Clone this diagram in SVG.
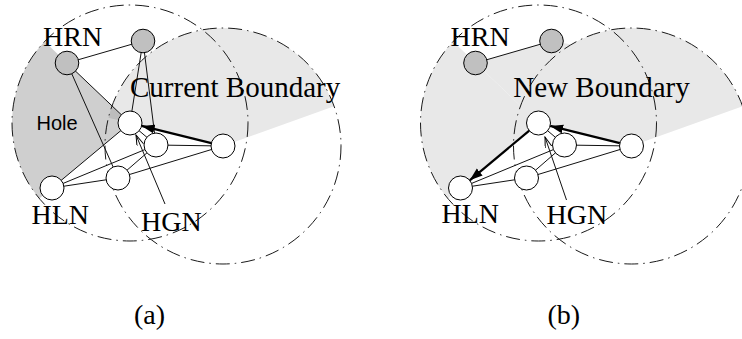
<svg xmlns="http://www.w3.org/2000/svg" width="742" height="339" viewBox="0 0 742 339">
  <style>
    .range { fill: none; stroke: #1a1a1a; stroke-width: 1; stroke-dasharray: 14 5 1.5 5; }
    .edge { stroke: #111; stroke-width: 1; fill: none; }
    .thick { stroke: #000; stroke-width: 2.2; fill: none; }
    .node { fill: #fff; stroke: #000; stroke-width: 1; }
    .hrn { fill: #c0c0c0; stroke: #000; stroke-width: 1; }
    .lbl { font-family: "Liberation Serif", "Times New Roman", serif; font-size: 28px; fill: #000; }
    .big { font-size: 29px; }
    .sans { font-family: "Liberation Sans", Arial, sans-serif; font-size: 20px; fill: #000; }
    .lightfill { fill: #e8e8e8; }
    .holefill { fill: #000; fill-opacity: 0.19; }
  </style>
  <defs>
    <marker id="solidHead" markerUnits="userSpaceOnUse" markerWidth="14" markerHeight="10" refX="13" refY="4.5" orient="auto">
      <path d="M0,0 L13,4.5 L0,9 Z" fill="#000"/>
    </marker>
    <marker id="openHead" markerUnits="userSpaceOnUse" markerWidth="12" markerHeight="8" refX="11" refY="3.5" orient="auto">
      <path d="M0,0 L11,3.5 L0,7" fill="none" stroke="#000" stroke-width="1"/>
    </marker>
  </defs>

  <rect width="742" height="339" fill="#fff"/>

  <!-- Panel (a): current boundary around the hole -->
  <g id="panel-a">
    <g id="a-shading">
      <path class="lightfill" d="M223,146 L108.45,117.67 A118,118 0 0 1 334.1,106.3 Z"/>
      <path class="holefill" d="M130,123 L44.55,41.62 A118,118 0 0 0 39.35,198.54 Z"/>
    </g>
    <g id="a-ranges">
      <circle class="range" cx="130" cy="123" r="118"/>
      <circle class="range" cx="223" cy="146" r="118"/>
    </g>
    <g id="a-connectors">
      <line class="edge" x1="67" y1="63" x2="143" y2="41"/>
      <line class="edge" x1="67" y1="63" x2="130" y2="123"/>
      <line class="edge" x1="67" y1="63" x2="118" y2="178"/>
      <line class="edge" x1="143" y1="41" x2="130" y2="123"/>
      <line class="edge" x1="143" y1="41" x2="156" y2="145"/>
      <line class="edge" x1="130" y1="123" x2="52" y2="188"/>
      <line class="edge" x1="130" y1="123" x2="156" y2="145"/>
      <line class="edge" x1="156" y1="145" x2="223" y2="146"/>
      <line class="edge" x1="52" y1="188" x2="156" y2="145"/>
      <line class="edge" x1="52" y1="188" x2="118" y2="178"/>
      <line class="edge" x1="118" y1="178" x2="156" y2="145"/>
      <line class="edge" x1="118" y1="178" x2="223" y2="146"/>
      <line class="thick" x1="211.35" y1="143.1" x2="141.65" y2="125.88" marker-end="url(#solidHead)"/>
      <line class="edge" x1="165" y1="204" x2="136" y2="135" marker-end="url(#openHead)"/>
    </g>
    <g id="a-hrn1"><circle class="hrn" cx="67" cy="63" r="11.8"/></g>
    <g id="a-hrn2"><circle class="hrn" cx="143" cy="41" r="11.8"/></g>
    <g id="a-nodeA"><circle class="node" cx="130" cy="123" r="12"/></g>
    <g id="a-nodeB"><circle class="node" cx="156" cy="145" r="12"/></g>
    <g id="a-nodeC"><circle class="node" cx="223" cy="146" r="12"/></g>
    <g id="a-nodeD"><circle class="node" cx="118" cy="178" r="12"/></g>
    <g id="a-hln"><circle class="node" cx="52" cy="188" r="12"/></g>
    <g id="a-labels">
      <text class="lbl" x="43" y="46">HRN</text>
      <text class="lbl big" x="130" y="97">Current Boundary</text>
      <text class="sans" x="36.5" y="129.5">Hole</text>
      <text class="lbl" x="31.5" y="223.5">HLN</text>
      <text class="lbl" x="141" y="231">HGN</text>
      <text class="lbl" x="134" y="324">(a)</text>
    </g>
  </g>

  <!-- Panel (b): boundary after the hole is absorbed -->
  <g id="panel-b">
    <g transform="translate(408.5,0)">
      <g id="b-shading">
        <path class="lightfill" d="M223,146 L108.45,117.67 A118,118 0 0 1 334.1,106.3 Z"/>
        <path class="lightfill" d="M130,123 L44.55,41.62 A118,118 0 0 0 39.35,198.54 Z"/>
        <polygon class="lightfill" points="44.55,41.62 67,63 143,41 166,45 130,123"/>
      </g>
      <g id="b-ranges">
        <circle class="range" cx="130" cy="123" r="118"/>
        <circle class="range" cx="223" cy="146" r="118"/>
      </g>
      <g id="b-connectors">
        <line class="edge" x1="67" y1="63" x2="143" y2="41"/>
        <line class="edge" x1="130" y1="123" x2="156" y2="145"/>
        <line class="edge" x1="156" y1="145" x2="223" y2="146"/>
        <line class="edge" x1="52" y1="188" x2="156" y2="145"/>
        <line class="edge" x1="52" y1="188" x2="118" y2="178"/>
        <line class="edge" x1="118" y1="178" x2="156" y2="145"/>
        <line class="edge" x1="118" y1="178" x2="223" y2="146"/>
        <line class="thick" x1="211.35" y1="143.1" x2="141.65" y2="125.88" marker-end="url(#solidHead)"/>
        <line class="thick" x1="120.78" y1="130.68" x2="61.22" y2="180.32" marker-end="url(#solidHead)"/>
        <line class="edge" x1="158" y1="200" x2="136.5" y2="137" marker-end="url(#openHead)"/>
      </g>
      <g id="b-hrn1"><circle class="hrn" cx="67" cy="63" r="11.8"/></g>
      <g id="b-hrn2"><circle class="hrn" cx="143" cy="41" r="11.8"/></g>
      <g id="b-nodeA"><circle class="node" cx="130" cy="123" r="12"/></g>
      <g id="b-nodeB"><circle class="node" cx="156" cy="145" r="12"/></g>
      <g id="b-nodeC"><circle class="node" cx="223" cy="146" r="12"/></g>
      <g id="b-nodeD"><circle class="node" cx="118" cy="178" r="12"/></g>
      <g id="b-hln"><circle class="node" cx="52" cy="188" r="12"/></g>
    </g>
    <g id="b-labels">
      <text class="lbl" x="450.5" y="45.5">HRN</text>
      <text class="lbl big" x="513.3" y="97">New Boundary</text>
      <text class="lbl" x="441.5" y="222.5">HLN</text>
      <text class="lbl" x="546.5" y="224">HGN</text>
      <text class="lbl" x="547.5" y="324">(b)</text>
    </g>
  </g>
</svg>
